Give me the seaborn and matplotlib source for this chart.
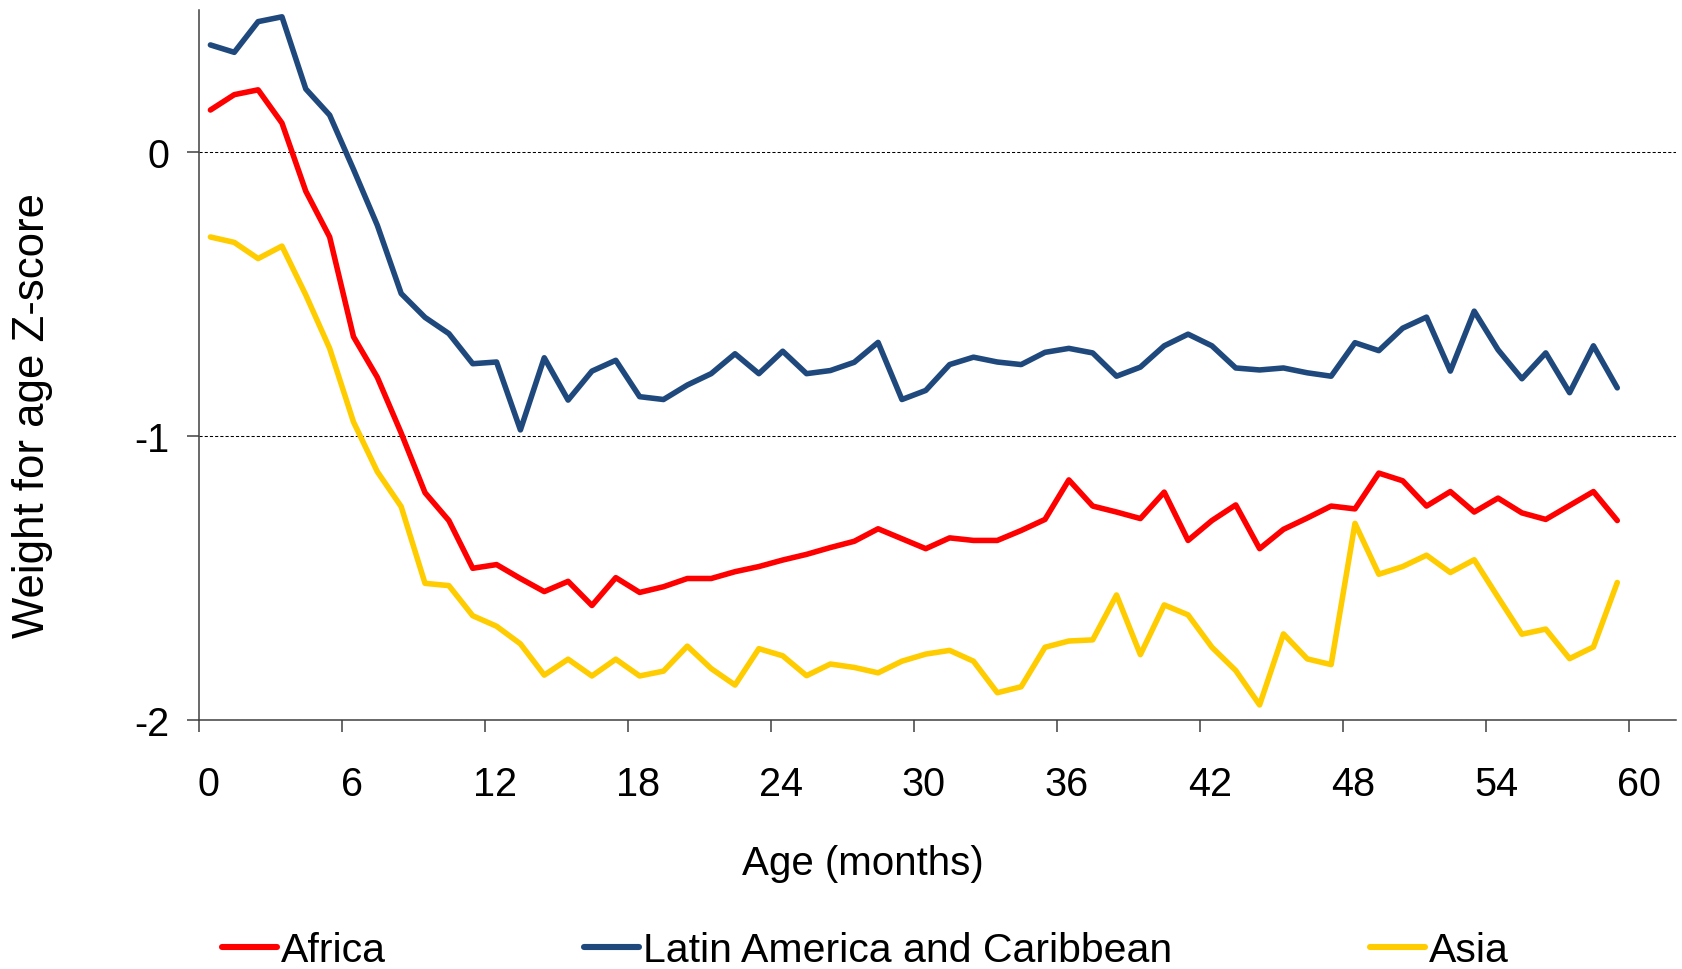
import numpy as np
import pandas as pd
import matplotlib
matplotlib.use("Agg")
import matplotlib.pyplot as plt
import matplotlib.transforms as mtransforms
import seaborn as sns

# ---- data ----
ages = [0.5, 1.5, 2.5, 3.5, 4.5, 5.5, 6.5, 7.5, 8.5, 9.5, 10.5, 11.5,
        12.5, 13.5, 14.5, 15.5, 16.5, 17.5, 18.5, 19.5, 20.5, 21.5, 22.5, 23.5,
        24.5, 25.5, 26.5, 27.5, 28.5, 29.5, 30.5, 31.5, 32.5, 33.5, 34.5, 35.5,
        36.5, 37.5, 38.5, 39.5, 40.5, 41.5, 42.5, 43.5, 44.5, 45.5, 46.5, 47.5,
        48.5, 49.5, 50.5, 51.5, 52.5, 53.5, 54.5, 55.5, 56.5, 57.5, 58.5, 59.5]

africa = [0.147, 0.201, 0.218, 0.101, -0.139, -0.300, -0.651, -0.794, -0.990, -1.200, -1.298, -1.466,
          -1.453, -1.502, -1.548, -1.512, -1.597, -1.499, -1.551, -1.531, -1.502, -1.502, -1.478, -1.460,
          -1.437, -1.417, -1.393, -1.371, -1.327, -1.362, -1.397, -1.359, -1.368, -1.368, -1.333, -1.294,
          -1.155, -1.247, -1.268, -1.291, -1.198, -1.368, -1.298, -1.243, -1.397, -1.329, -1.289, -1.247,
          -1.257, -1.131, -1.158, -1.247, -1.196, -1.268, -1.219, -1.271, -1.294, -1.245, -1.196, -1.298]

latam = [0.376, 0.350, 0.458, 0.475, 0.221, 0.129, -0.062, -0.259, -0.499, -0.583, -0.640, -0.746,
         -0.740, -0.979, -0.725, -0.874, -0.772, -0.734, -0.862, -0.872, -0.821, -0.781, -0.711, -0.781,
         -0.702, -0.781, -0.770, -0.741, -0.671, -0.872, -0.840, -0.749, -0.723, -0.740, -0.749, -0.706,
         -0.692, -0.708, -0.790, -0.758, -0.683, -0.642, -0.683, -0.761, -0.768, -0.761, -0.778, -0.790,
         -0.672, -0.700, -0.621, -0.582, -0.772, -0.561, -0.697, -0.799, -0.708, -0.848, -0.683, -0.831]

asia = [-0.300, -0.319, -0.376, -0.332, -0.504, -0.692, -0.951, -1.126, -1.249, -1.519, -1.527, -1.633,
        -1.670, -1.732, -1.842, -1.786, -1.845, -1.786, -1.845, -1.828, -1.740, -1.819, -1.877, -1.749,
        -1.774, -1.844, -1.803, -1.815, -1.834, -1.793, -1.768, -1.755, -1.793, -1.904, -1.883, -1.744,
        -1.722, -1.718, -1.560, -1.770, -1.595, -1.630, -1.744, -1.826, -1.947, -1.697, -1.785, -1.805,
        -1.308, -1.487, -1.460, -1.420, -1.481, -1.436, -1.568, -1.698, -1.680, -1.784, -1.743, -1.516]

regions = ["Africa", "Latin America and Caribbean", "Asia"]
colors = ["#FF0000", "#1F497D", "#FFCC00"]
x_ticks = [0, 6, 12, 18, 24, 30, 36, 42, 48, 54, 60]
y_ticks = [-2, -1, 0]

df = pd.concat([
    pd.DataFrame({"age": ages, "z": africa, "region": regions[0]}),
    pd.DataFrame({"age": ages, "z": latam, "region": regions[1]}),
    pd.DataFrame({"age": ages, "z": asia, "region": regions[2]}),
], ignore_index=True)

# ---- style ----
sns.set_theme(style="white")
plt.rcParams["font.family"] = ["Liberation Sans", "DejaVu Sans"]
plt.rcParams["text.color"] = "black"

W, H, DPI = 1682, 970, 100
fig = plt.figure(figsize=(W / DPI, H / DPI), dpi=DPI)
ax = fig.add_axes([198.5 / W, (H - 721) / H, (1675.7 - 198.5) / W, (721 - 10.7) / H])

LW = 4.0
sns.lineplot(data=df, x="age", y="z", hue="region", hue_order=regions,
             palette=dict(zip(regions, colors)), linewidth=LW, ax=ax,
             legend=True, sort=False)
for ln in ax.lines:
    ln.set_linewidth(LW)
    ln.set_solid_joinstyle("round")
    ln.set_solid_capstyle("round")

ax.set_xlim(0, 61.95)
ax.set_ylim(-2, 0.5)
ax.set_xticks(x_ticks)
ax.set_yticks(y_ticks)
ax.set_xticklabels([str(t) for t in x_ticks])
ax.set_yticklabels([str(t) for t in y_ticks])

spine_c = "#404040"
for s in ["top", "right"]:
    ax.spines[s].set_visible(False)
for s in ["left", "bottom"]:
    ax.spines[s].set_color(spine_c)
    ax.spines[s].set_linewidth(1.1)

ax.tick_params(axis="x", direction="out", length=8.4, width=1.1, color=spine_c,
               pad=24.0, labelsize=28.5, labelcolor="black", bottom=True)
ax.tick_params(axis="y", direction="out", length=8.6, width=1.1, color=spine_c,
               pad=12.6, labelsize=28.5, labelcolor="black", left=True)

# x tick labels sit slightly right of their ticks in the reference
offset = mtransforms.ScaledTranslation(10 / DPI, 0, fig.dpi_scale_trans)
for lab in ax.get_xticklabels():
    lab.set_transform(lab.get_transform() + offset)

ax.grid(False)
ax.yaxis.grid(True, color="black", linestyle=(0, (3, 2)), linewidth=0.75)
ax.set_axisbelow(True)

ax.set_xlabel("Age (months)", fontsize=29, color="black")
ax.xaxis.label.set_va("center")
ax.xaxis.set_label_coords(0.4495, -0.2008)
ax.set_ylabel("Weight for age Z-score", fontsize=31.5, color="black")
ax.yaxis.label.set_va("center")
ax.yaxis.set_label_coords((33 - 198.5) / (1675.7 - 198.5), (721 - 415) / (721 - 10.7))

handles, labels = ax.get_legend_handles_labels()
for h in handles:
    h.set_linewidth(4.4)
leg = ax.legend(handles, labels, loc="center left", bbox_to_anchor=(222 / W, 1 - 951 / H),
                bbox_transform=fig.transFigure, ncol=3, frameon=False, fontsize=29.5,
                handlelength=1.34, handletextpad=0.1, columnspacing=4.83, borderpad=0,
                borderaxespad=0)
for t in leg.get_texts():
    t.set_color("black")

fig.savefig("out.png", dpi=DPI, facecolor="white")
